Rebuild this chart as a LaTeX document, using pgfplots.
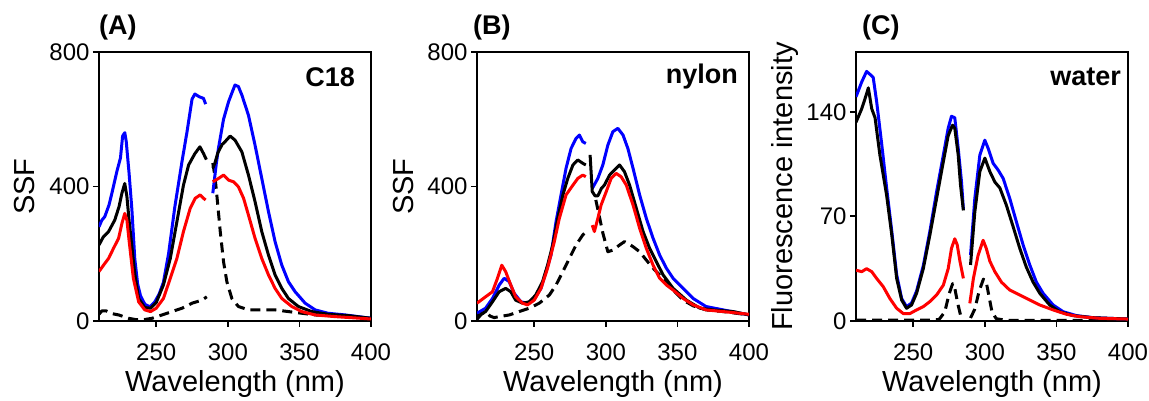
\documentclass[border=0pt]{standalone}
\usepackage{pgfplots}
\pgfplotsset{compat=1.18}
\usepackage{fontspec}
\setmainfont{Liberation Sans}

\pgfplotsset{
  panel/.style={
    scale only axis, width=272pt, height=269pt, anchor=south west,
    xmin=210, xmax=400, xtick={250,300,350,400},
    axis line style={line width=1.8pt},
    tick align=outside, tick pos=left, major tick length=6pt,
    every tick/.style={line width=1.8pt, black},
    tick label style={font=\fontsize{24}{28}\selectfont},
    xticklabel style={yshift=-13pt},
    /pgf/number format/assume math mode=true,
    label style={font=\fontsize{29}{34}\selectfont},
    xlabel={Wavelength (nm)},
    xlabel style={at={(axis description cs:0.5,-0.234)}, anchor=center},
    unbounded coords=jump,
    every axis title/.style={font=\fontsize{27}{32}\selectfont\bfseries, anchor=west, at={(rel axis cs:0,1)}, yshift=24pt, inner sep=0pt},
    every axis plot/.append style={line width=3pt, mark=none, line join=round},
  },
}
\tikzset{
  dsh/.style={black, dash pattern=on 10pt off 6pt},
  inlbl/.style={anchor=east, inner sep=0pt, font=\fontsize{27}{32}\selectfont\bfseries},
}

\begin{document}
\begin{tikzpicture}
\useasboundingbox (0,0) rectangle (1149pt,401pt);

% ---------------- Panel A ----------------
\begin{axis}[panel, at={(99pt,80pt)}, ymin=0, ymax=800, ytick={0,400,800},
  ylabel={SSF}, ylabel style={at={(axis description cs:-0.272,0.5)}, anchor=center},
  title={(A)}]
\addplot[dsh] coordinates {(210,20)(212,30)(215,30)(219,22)(223.7,18)(230.7,8)(236,4)(240,3)(247,8)(254,18)(261,28)(268,38)(275,53)(282,62)(285.3,72)
 (287,nan)
 (289.5,470)(291,430)(292.3,375)(294.7,266)(297,176)(299.3,117)(302.8,67)(307.4,43)(314.4,33)(323.7,33)(333,33)(342.3,28)(351.6,23)(361,18)(370,16)(384,13)(400,8)};
\addplot[blue] coordinates {(210,280)(212,300)(214,310)(217,345)(219,380)(222.5,445)(225,485)(226.5,550)(228,560)(229,535)(231,440)(233,330)(235,185)(237,110)(239,75)(242,50)(245.5,42)(249,57)(252,80)(255,115)(258.6,200)(263,340)(268,475)(271.5,563)(275,660)(277,675)(280,667)(283,662)(284.5,645)
 (287,nan)
 (289.5,380)(292,470)(293.5,515)(297,600)(300.5,652)(303,680)(305,702)(307.4,697)(309.8,672)(314.4,612)(319,523)(323.7,424)(328.4,325)(333,236)(337.7,166)(342.3,117)(347,87)(354,53)(361,33)(370,23)(382,18)(400,8)};
\addplot[black] coordinates {(210,226)(213,250)(216.7,266)(221,300)(224,340)(226,380)(228,409)(229.5,370)(231,300)(233,220)(235,140)(237.7,67)(242,40)(246,38)(250,55)(255,107)(259.8,186)(264.4,295)(269,404)(272.6,464)(277,498)(280.5,518)(283,498)(285,480)
 (287,nan)
 (289.5,455)(291,470)(293,500)(296,525)(298,533)(301.6,550)(305,538)(309.8,503)(314.4,434)(319,355)(323.7,266)(328.4,196)(333,137)(337.7,97)(342.3,67)(349.3,43)(358.6,28)(370,20)(384,16)(400,8)};
\addplot[red] coordinates {(210,147)(213,165)(216.7,186)(220,215)(223.7,246)(226,290)(228,320)(229.5,300)(231,240)(234,127)(237.7,57)(242,33)(246,28)(250,38)(255,67)(259.8,127)(264.4,186)(269,266)(273.7,335)(277.2,365)(280.7,375)(283,365)(284.5,360)
 (287,nan)
 (289.5,414)(293.5,424)(297,434)(300.5,419)(304,414)(307.4,399)(311,365)(314.4,315)(319,246)(323.7,186)(328.4,137)(333,97)(337.7,67)(344.7,43)(351.6,28)(361,18)(375,13)(400,6)};
\node[inlbl, xshift=-16pt, yshift=-25pt] at (rel axis cs:1,1) {C18};
\end{axis}

% ---------------- Panel B ----------------
\begin{axis}[panel, at={(477pt,80pt)}, ymin=0, ymax=800, ytick={0,400,800},
  ylabel={SSF}, ylabel style={at={(axis description cs:-0.272,0.5)}, anchor=center},
  title={(B)}, title style={xshift=-4pt}]
\addplot[dsh] coordinates {(210,5)(213,20)(216,28)(219,15)(222,10)(225.5,13)(232.5,18)(239.5,28)(246.5,38)(253.5,53)(260.5,77)(265.2,107)(270,147)(274.5,186)(279.2,226)(283.9,256)(287.4,270)
 (290,nan)
 (293,360)(295,320)(298,260)(301.4,206)(304.9,211)(309.6,226)(313,236)(315.4,231)(319,221)(323.6,206)(328.3,181)(333,157)(337.6,137)(342.3,112)(347,92)(354,62)(361,45)(370,33)(382,28)(400,18)};
\addplot[blue] coordinates {(210,23)(216,38)(220.8,67)(225.5,107)(229,127)(232.5,117)(236,82)(240.7,57)(245.3,53)(250,67)(254.7,97)(258.2,147)(261.7,196)(265.2,295)(268.7,375)(272.2,454)(275.7,513)(279.2,543)(281.5,553)(283.9,533)(286,528)
 (288,nan)
 (290.5,394)(294.4,424)(297.9,464)(301.4,523)(304.9,563)(308.4,573)(312,553)(315.4,513)(319,454)(323.6,375)(328.3,305)(333,246)(337.6,196)(342.3,157)(347,127)(354,97)(361,67)(370,43)(382,33)(400,18)};
\addplot[black] coordinates {(210,13)(216,28)(220.8,57)(225.5,87)(230,97)(233.6,87)(237,62)(241.8,53)(246.5,57)(251,77)(255.8,117)(259.3,166)(262.9,226)(266.4,305)(270,375)(273.4,424)(277,464)(280.4,479)(283.9,469)(286,464)
 (287.5,nan)
 (289,494)(290.5,385)(292.5,372)(294.4,372)(297,395)(299,404)(302.6,434)(307.2,454)(309.6,464)(313,444)(316.6,404)(321.3,335)(326,266)(330.6,216)(335.3,176)(340,137)(347,97)(356.3,62)(365.7,38)(375,33)(389,28)(400,18)};
\addplot[red] coordinates {(210,53)(216,72)(220.8,87)(224.3,127)(227.3,166)(230,147)(233.6,107)(237,72)(241.8,53)(245.3,48)(250,62)(254.7,97)(259.3,157)(264,236)(267.5,305)(272.2,375)(277,404)(280.4,424)(283.9,434)(286,429)
 (288,nan)
 (290.5,285)(292,266)(294.4,305)(296.7,345)(300.2,384)(303.7,424)(307.2,439)(310.7,429)(314.3,404)(319,345)(323.6,276)(328.3,216)(333,166)(337.6,127)(342.3,107)(347,92)(354,67)(361,48)(370,33)(382,28)(400,20)};
\node[inlbl, xshift=-11pt, yshift=-25pt] at (rel axis cs:1,1) {nylon};
\end{axis}

% ---------------- Panel C ----------------
\begin{axis}[panel, at={(856pt,80pt)}, ymin=0, ymax=180, ytick={0,70,140},
  ylabel={Fluorescence intensity}, ylabel style={at={(axis description cs:-0.261,0.5)}, anchor=center},
  title={(C)}, title style={xshift=6pt}]
\addplot[dsh] coordinates {(210,0.5)(240,0.5)(260,0.5)(268,1)(272,6)(275,18)(277.5,25)(279,22)(281,12)(283,4)(285,1)
 (287.5,nan)
 (290,2)(293,8)(296,20)(299,28)(301,26)(303,16)(305,6)(308,1.5)(315,0.5)(350,0.4)(400,0.3)};
\addplot[blue] coordinates {(210,150)(214,160)(217.4,167)(219.8,165)(222,163)(224.4,147)(228,118)(231.4,89)(235,60)(238.4,31)(241.9,15)(245.3,9.6)(248.8,12)(252.3,20)(257,37)(261.6,60)(266.3,86.5)(271,111)(274.4,129)(276.7,137)(279,136)(281.4,115.5)(283.7,93)(285,75)
 (287.5,nan)
 (290,44)(293,82)(296.5,111)(300,121)(302.3,115.5)(305.8,105.5)(309.3,101)(312.8,95.4)(317.4,82)(322,66.5)(326.7,51)(331.4,37.5)(336,26)(340.7,18.5)(347.7,10.7)(354.7,6.2)(364,3.6)(375.6,2.2)(400,1.3)};
\addplot[black] coordinates {(210,133)(214,142)(217.4,152)(218.6,156)(221,142)(223.3,136)(226.7,111)(231.4,84)(235,57.5)(238.4,28.5)(241.9,14)(245.3,8.5)(248.8,10.7)(252.3,18.5)(257,35)(261.6,57.5)(266.3,82)(271,106.6)(274.4,124)(277.4,131)(279,129)(281.4,111)(283,91)(285,74)
 (287.5,nan)
 (290,37.5)(293,73)(296.5,100)(300,109)(303.5,100)(307,93)(310.5,89)(315,77.6)(319.8,63)(324.4,48.6)(329,36)(333.7,26)(338.4,18.5)(345.3,10.7)(352.3,6.2)(361.6,3.6)(375.6,2.2)(400,1.3)};
\addplot[red] coordinates {(210,34)(214,33)(217.4,35)(221,33)(224.4,28.5)(229,23)(233.7,15)(238.4,8.5)(243,5)(247.7,5)(252.3,7.4)(257,9.6)(261.6,13)(266.3,17.4)(271,24)(274.4,35)(276.7,48.6)(279,55)(280.7,51)(282.6,40)(285,28.5)
 (287.5,nan)
 (289.5,11.8)(292,28.5)(295.3,44)(298.8,54)(301,48.6)(303.5,40)(307,33)(311.6,26)(317.4,20.7)(324.4,17.4)(331.4,14)(338.4,10.7)(347.7,7.4)(357,4.5)(366,2.9)(380,1.8)(400,1.3)};
\node[inlbl, xshift=-7pt, yshift=-25pt] at (rel axis cs:1,1) {water};
\end{axis}
\end{tikzpicture}
\end{document}
